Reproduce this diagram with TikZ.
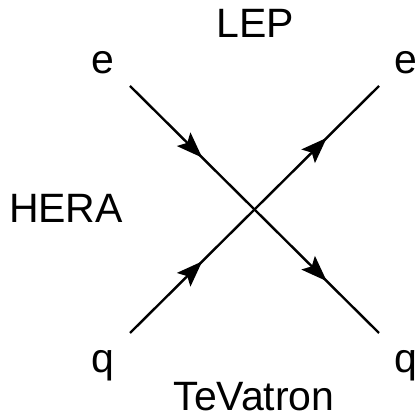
\documentclass[tikz,border=0pt]{standalone}
\usepackage{fontspec}
\setmainfont{Liberation Sans}
\usetikzlibrary{arrows.meta,decorations.markings}

\begin{document}
\begin{tikzpicture}[x=1pt,y=1pt,
  lbl/.style={anchor=base,inner sep=0pt,font=\fontsize{41}{48}\selectfont},
  fermion/.style={line width=2.4pt,postaction={decorate},
    decoration={markings,mark=at position 0.58 with
      {\arrow{Stealth[length=26pt,width=19pt,inset=5pt]}}}}]

\useasboundingbox (0,0) rectangle (418,417);

\coordinate (ein) at (130,331);
\coordinate (qin) at (130,84);
\coordinate (eout) at (379,331);
\coordinate (qout) at (379,84);
\coordinate (v) at (254.5,207.5);

\draw[fermion] (ein)--(v);
\draw[fermion] (v)--(qout);
\draw[fermion] (qin)--(v);
\draw[fermion] (v)--(eout);

\node[lbl] (e1) at (103,343){e};
\node[lbl] (e2) at (406,343){e};
\node[lbl] (q1) at (103,44){q};
\node[lbl] (q2) at (406,44){q};

\node[lbl] (lep) at (255,379){LEP};
\node[lbl] (hera) at (66,194){HERA};
\node[lbl] (tev) at (254,6){TeVatron};

\end{tikzpicture}
\end{document}
